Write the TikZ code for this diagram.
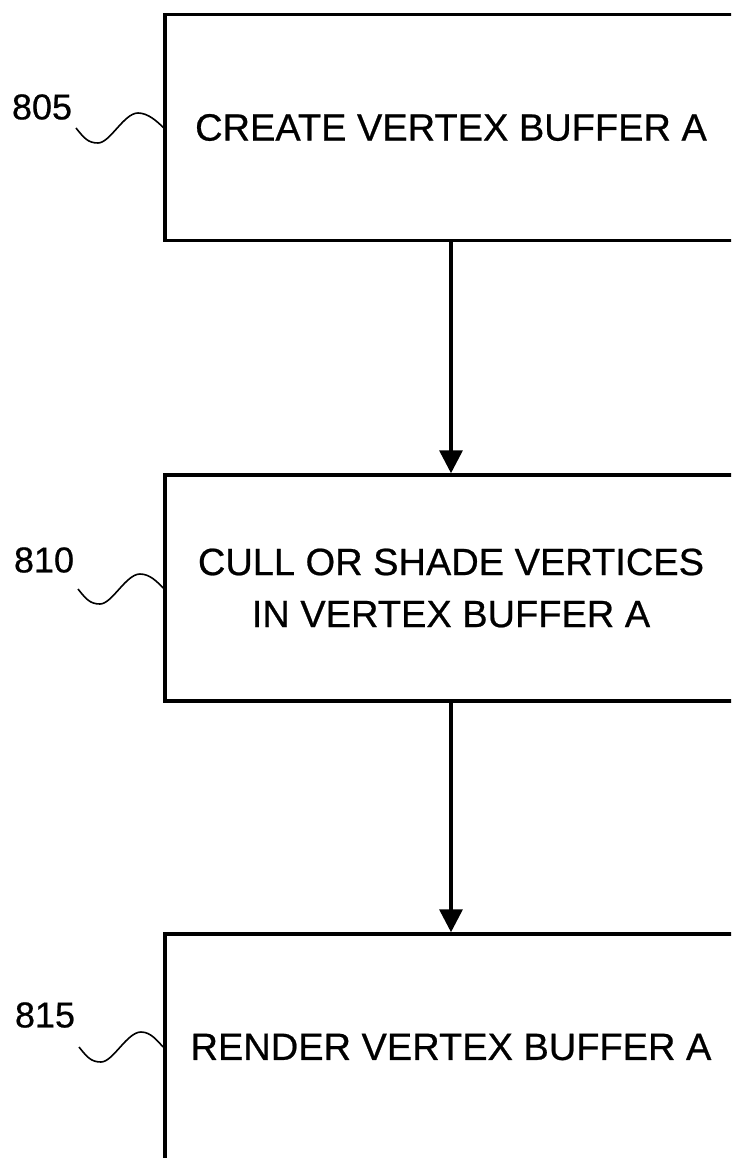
\documentclass[tikz,border=0pt]{standalone}
\usepackage{fontspec}
\setmainfont{Liberation Sans}[FakeBold=0.6]
\usetikzlibrary{arrows.meta}
\begin{document}
\begin{tikzpicture}[x=1pt,y=1pt,
  stepbox/.style={draw,line width=3.5pt,minimum width=572pt,minimum height=226pt,
    inner sep=0pt,align=center,font=\fontsize{38}{52}\selectfont},
  flow/.style={-{Triangle[length=23pt,width=23pt]},line width=3.5pt},
  refnum/.style={font=\fontsize{36}{40}\selectfont},
  lead/.style={line width=1.6pt}]
  \clip (0,0) rectangle (731,-1158);

  % Blocchi
  \node[stepbox] (create) at (451,-127.5) {CREATE VERTEX BUFFER A};
  \node[stepbox] (cull) at (451,-588) {CULL OR SHADE VERTICES\\IN VERTEX BUFFER A};
  \node[stepbox] (render) at (451,-1047) {RENDER VERTEX BUFFER A};

  % Numeri di riferimento
  \node[refnum] (n805) at (42,-107) {805};
  \node[refnum] (n810) at (44,-560) {810};
  \node[refnum] (n815) at (45,-1015) {815};
  \coordinate (w805) at (76,-128);
  \coordinate (w810) at (78,-589);
  \coordinate (w815) at (79,-1047);

  % Frecce
  \draw[flow] (create) -- (cull);
  \draw[flow] (cull) -- (render);

  % Linee ondulate
  \draw[lead] (w805) .. controls +(8,-10) and +(-10,0) .. ++(22,-15)
    .. controls +(12,0) and +(-14,0) .. ++(40,30)
    .. controls +(10,0) and +(-6,6) .. (create.west);
  \draw[lead] (w810) .. controls +(8,-10) and +(-10,0) .. ++(22,-15)
    .. controls +(12,0) and +(-14,0) .. ++(40,30)
    .. controls +(10,0) and +(-6,6) .. (cull.west);
  \draw[lead] (w815) .. controls +(8,-10) and +(-10,0) .. ++(22,-15)
    .. controls +(12,0) and +(-14,0) .. ++(40,30)
    .. controls +(10,0) and +(-6,6) .. (render.west);
\end{tikzpicture}
\end{document}
